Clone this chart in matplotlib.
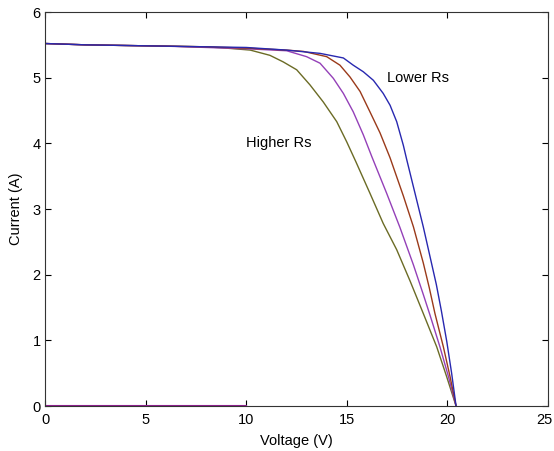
import matplotlib
matplotlib.use("Agg")
import matplotlib.pyplot as plt
from matplotlib.transforms import ScaledTranslation

# Lower Rs (blue)
v_blue = [0, 2, 4, 6, 8, 10, 12, 13.67, 14.83, 15.32, 15.82, 16.32, 16.81, 17.15, 17.48, 17.81,
          17.98, 18.39, 18.8, 19.14, 19.45, 19.7, 19.97, 20.21, 20.43]
i_blue = [5.52, 5.50, 5.49, 5.48, 5.47, 5.46, 5.42, 5.37, 5.30, 5.19, 5.09, 4.96, 4.76, 4.58, 4.33, 3.97,
          3.75, 3.24, 2.73, 2.27, 1.85, 1.45, 0.98, 0.50, 0.0]
# second (red/brown)
v_red = [0, 2, 4, 6, 8, 10, 12, 12.84, 14.0, 14.66, 15.16, 15.66, 16.15, 16.65, 17.15, 17.81,
         18.31, 18.8, 19.1, 19.38, 19.8, 20.13, 20.43]
i_red = [5.52, 5.50, 5.49, 5.48, 5.47, 5.45, 5.42, 5.40, 5.32, 5.19, 5.01, 4.79, 4.48, 4.16, 3.78, 3.20,
         2.73, 2.18, 1.80, 1.41, 0.90, 0.45, 0.0]
# third (purple)
v_mag = [0, 2, 4, 6, 8, 10, 12.01, 13.0, 13.67, 14.33, 14.83, 15.32, 15.82, 16.24, 16.98, 17.64,
         18.31, 18.8, 19.14, 19.63, 20.05, 20.43]
i_mag = [5.52, 5.50, 5.49, 5.48, 5.46, 5.44, 5.41, 5.32, 5.22, 4.99, 4.76, 4.48, 4.13, 3.80, 3.24, 2.72,
         2.15, 1.70, 1.38, 0.90, 0.45, 0.0]
# Higher Rs (olive)
v_grn = [0, 2, 4, 6, 8, 9, 10.2, 11.18, 11.84, 12.51, 13.17, 13.83, 14.5, 15.0, 15.45, 16.15,
         16.81, 17.48, 18.15, 18.8, 19.47, 19.96, 20.43]
i_grn = [5.52, 5.50, 5.49, 5.48, 5.47, 5.45, 5.42, 5.34, 5.24, 5.12, 4.89, 4.63, 4.33, 4.02, 3.72, 3.24,
         2.78, 2.38, 1.90, 1.41, 0.90, 0.45, 0.0]
# zero line
v_zero = [0, 10]
i_zero = [0, 0]

x_ticks = [0, 5, 10, 15, 20, 25]
y_ticks = [0, 1, 2, 3, 4, 5, 6]

FS = 10.5
plt.rcParams['font.family'] = ['Liberation Sans', 'DejaVu Sans']
fig = plt.figure(figsize=(5.54, 4.51), dpi=100)
ax = fig.add_axes([45/554, 45/451, (548-45)/554, (406-12)/451])

lw = 1.0
ax.plot(v_zero, i_zero, color='#902090', lw=1.5)
ax.plot(v_grn, i_grn, color='#6b6b25', lw=lw)
ax.plot(v_mag, i_mag, color='#9440b8', lw=lw)
ax.plot(v_red, i_red, color='#9a3a1a', lw=lw)
ax.plot(v_blue, i_blue, color='#2828b0', lw=lw)

ax.text(17.0, 5.0, 'Lower Rs', fontsize=FS, ha='left', va='center')
ax.text(10.0, 4.0, 'Higher Rs', fontsize=FS, ha='left', va='center')

ax.set_xlim(0, 25)
ax.set_ylim(0, 6)
ax.set_xticks(x_ticks)
ax.set_yticks(y_ticks)
ax.tick_params(direction='in', top=True, right=True, length=4, width=0.8,
               labelsize=FS)
ax.tick_params(axis='x', pad=5)
ax.tick_params(axis='y', pad=3)
for s in ax.spines.values():
    s.set_linewidth(0.8)
    s.set_color('#333333')
ax.set_xlabel('Voltage (V)', fontsize=FS, labelpad=5)
ax.set_ylabel('Current (A)', fontsize=FS, labelpad=7)

# keep the last x tick label inside the figure
last = ax.get_xticklabels()[-1]
last.set_transform(last.get_transform() + ScaledTranslation(-4/100, 0, fig.dpi_scale_trans))

fig.savefig('out.png', dpi=100)
